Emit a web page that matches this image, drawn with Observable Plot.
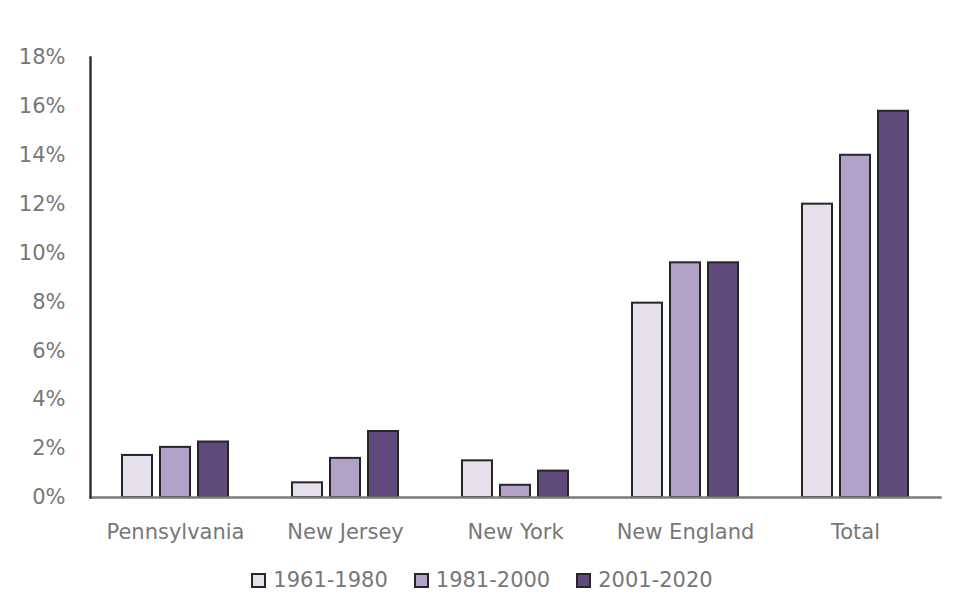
<!DOCTYPE html>
<html>
<head>
<meta charset="utf-8">
<script src="https://cdn.jsdelivr.net/npm/d3@7"></script>
<script src="https://cdn.jsdelivr.net/npm/@observablehq/plot@0.6"></script>
<style>
  body { margin: 0; background: #fff; }
  #legend { display: flex; justify-content: center; align-items: center; height: 40px; font-family: "DejaVu Sans", sans-serif; font-size: 21px; color: #777; }
  #legend .item { display: flex; align-items: center; margin: 0 13px; }
  #legend .sw { width: 11px; height: 11px; border: 2px solid #262626; margin-right: 7px; }
</style>
</head>
<body>
<div id="chart"></div>
<div id="legend"></div>
<script>
const regions = ["Pennsylvania", "New Jersey", "New York", "New England", "Total"];
const periods = ["1961-1980", "1981-2000", "2001-2020"];
const v1961 = [1.72, 0.6, 1.5, 7.95, 12.0];
const v1981 = [2.05, 1.6, 0.5, 9.6, 14.0];
const v2001 = [2.27, 2.7, 1.08, 9.6, 15.8];
const colors = ["#E6E0EC", "#B3A2C7", "#604A7B"];
const yTicks = [0, 2, 4, 6, 8, 10, 12, 14, 16, 18];

const series = [v1961, v1981, v2001];
const data = [];
regions.forEach((r, i) => periods.forEach((p, j) => data.push({region: r, period: p, value: series[j][i]})));

const chart = Plot.plot({
  width: 964,
  height: 560,
  marginLeft: 88,
  marginRight: 22,
  marginTop: 57,
  marginBottom: 63,
  style: {fontFamily: "DejaVu Sans, sans-serif", fontSize: "21px", color: "#777", background: "#fff"},
  fx: {domain: regions, padding: 0},
  x: {domain: periods, paddingInner: 0.205, paddingOuter: 0.79, axis: null},
  y: {domain: [0, 18]},
  color: {domain: periods, range: colors},
  marks: [
    Plot.barY(data, {fx: "region", x: "period", y: "value", fill: "period", stroke: "#262626", strokeWidth: 2}),
    Plot.frame({anchor: "bottom", stroke: "#7a7a7a", strokeWidth: 2.5, facet: "super"}),
    Plot.frame({anchor: "left", stroke: "#333", strokeWidth: 2.5, facet: "super"}),
    Plot.axisY({ticks: yTicks, tickSize: 0, tickPadding: 25, tickFormat: d => d + "%", label: null, fill: "#777"}),
    Plot.axisFx({anchor: "bottom", tickSize: 0, tickPadding: 27, label: null, fill: "#777"})
  ]
});
document.getElementById("chart").appendChild(chart);

const legend = document.getElementById("legend");
periods.forEach((p, i) => {
  const item = document.createElement("div");
  item.className = "item";
  const sw = document.createElement("span");
  sw.className = "sw";
  sw.style.background = colors[i];
  const t = document.createElement("span");
  t.textContent = p;
  item.appendChild(sw);
  item.appendChild(t);
  legend.appendChild(item);
});
</script>
</body>
</html>
